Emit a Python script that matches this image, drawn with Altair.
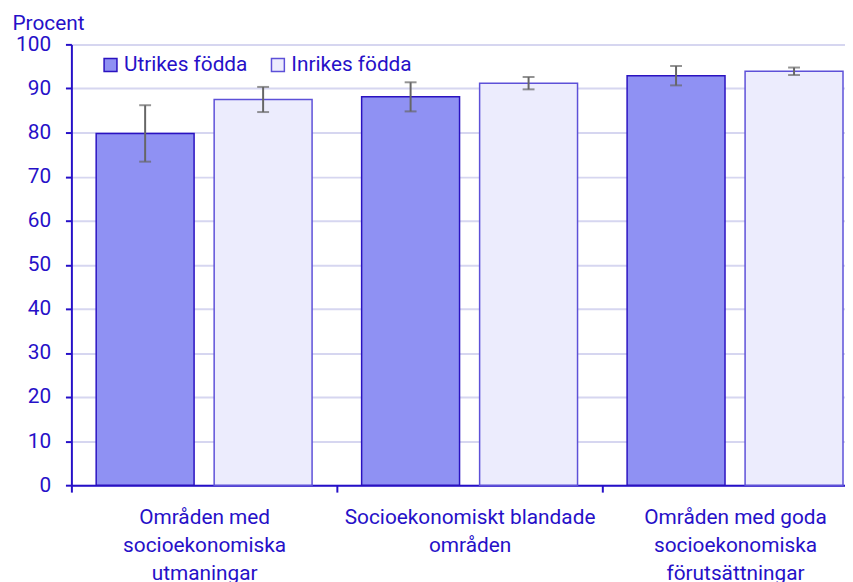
import altair as alt
import pandas as pd

categories = [
    "Områden med\nsocioekonomiska\nutmaningar",
    "Socioekonomiskt blandade\nområden",
    "Områden med goda\nsocioekonomiska\nförutsättningar",
]
groups = ["Utrikes födda", "Inrikes födda"]
utrikes = [79.8, 88.1, 92.9]
utrikes_err = [6.4, 3.3, 2.2]
inrikes = [87.5, 91.2, 93.9]
inrikes_err = [2.85, 1.4, 0.85]

rows = []
for i, c in enumerate(categories):
    for g, vals, errs in ((groups[0], utrikes, utrikes_err), (groups[1], inrikes, inrikes_err)):
        rows.append({"cat": c, "grp": g, "val": vals[i],
                     "lo": vals[i] - errs[i], "hi": vals[i] + errs[i]})
df = pd.DataFrame(rows)

BLUE = "#2610c8"
FONT = "Roboto"

x = alt.X("cat:N", sort=categories,
          scale=alt.Scale(range=[0, 804], paddingInner=0, paddingOuter=0),
          axis=alt.Axis(title=None, tickBand="extent", grid=False,
                        labelExpr="split(datum.label, '\\n')", labelAngle=0,
                        labelFontSize=21, labelLineHeight=28, labelColor=BLUE,
                        labelPadding=15, labelBaseline="top", labelLimit=0,
                        domainColor=BLUE, domainWidth=2, tickColor=BLUE,
                        tickWidth=2, tickSize=7))
xo = alt.XOffset("grp:N", sort=groups,
                 scale=alt.Scale(paddingInner=0.17, paddingOuter=0.21))

y_axis = alt.Axis(title="Procent", titleAngle=0, titleAlign="left",
                  titleBaseline="alphabetic", titleX=-60, titleY=-15,
                  titleFontSize=21, titleFontWeight="normal", titleColor=BLUE,
                  values=list(range(0, 101, 10)), labelFontSize=21,
                  labelColor=BLUE, labelPadding=15, tickSize=6, tickWidth=2,
                  tickColor=BLUE, domainColor=BLUE, domainWidth=2,
                  grid=True, gridColor="#d6d6f0", gridWidth=2)

base = alt.Chart(df)

bars = base.mark_bar(strokeWidth=1.5).encode(
    x=x, xOffset=xo,
    y=alt.Y("val:Q", scale=alt.Scale(domain=[0, 100], nice=False), axis=y_axis),
    fill=alt.Fill("grp:N", sort=groups,
                  scale=alt.Scale(domain=groups, range=["#8f91f3", "#ececfd"]),
                  legend=alt.Legend(title=None, orient="none", legendX=29,
                                    legendY=10, direction="horizontal",
                                    symbolType="square", symbolSize=169,
                                    symbolStrokeColor=BLUE, symbolStrokeWidth=1.5,
                                    labelFontSize=21, labelColor=BLUE,
                                    labelOffset=3, columnPadding=20)),
    stroke=alt.Stroke("grp:N", sort=groups,
                      scale=alt.Scale(domain=groups, range=["#2a12c0", "#5d50d8"]),
                      legend=None),
)

rules = base.mark_rule(color="#666666", strokeWidth=2).encode(
    x=x, xOffset=xo, y="lo:Q", y2="hi:Q")
cap_hi = base.mark_tick(color="#666666", thickness=2, size=12, orient="horizontal").encode(
    x=x, xOffset=xo, y="hi:Q")
cap_lo = base.mark_tick(color="#666666", thickness=2, size=12, orient="horizontal").encode(
    x=x, xOffset=xo, y="lo:Q")

chart = alt.layer(bars, rules, cap_hi, cap_lo).properties(
    width=781, height=445,
    autosize=alt.AutoSizeParams(type="none"),
    padding={"left": 64, "top": 34, "right": 0, "bottom": 95},
).configure(font=FONT).configure_view(stroke=None)

chart.save("out.html", embed_options={"renderer": "svg", "actions": False})
